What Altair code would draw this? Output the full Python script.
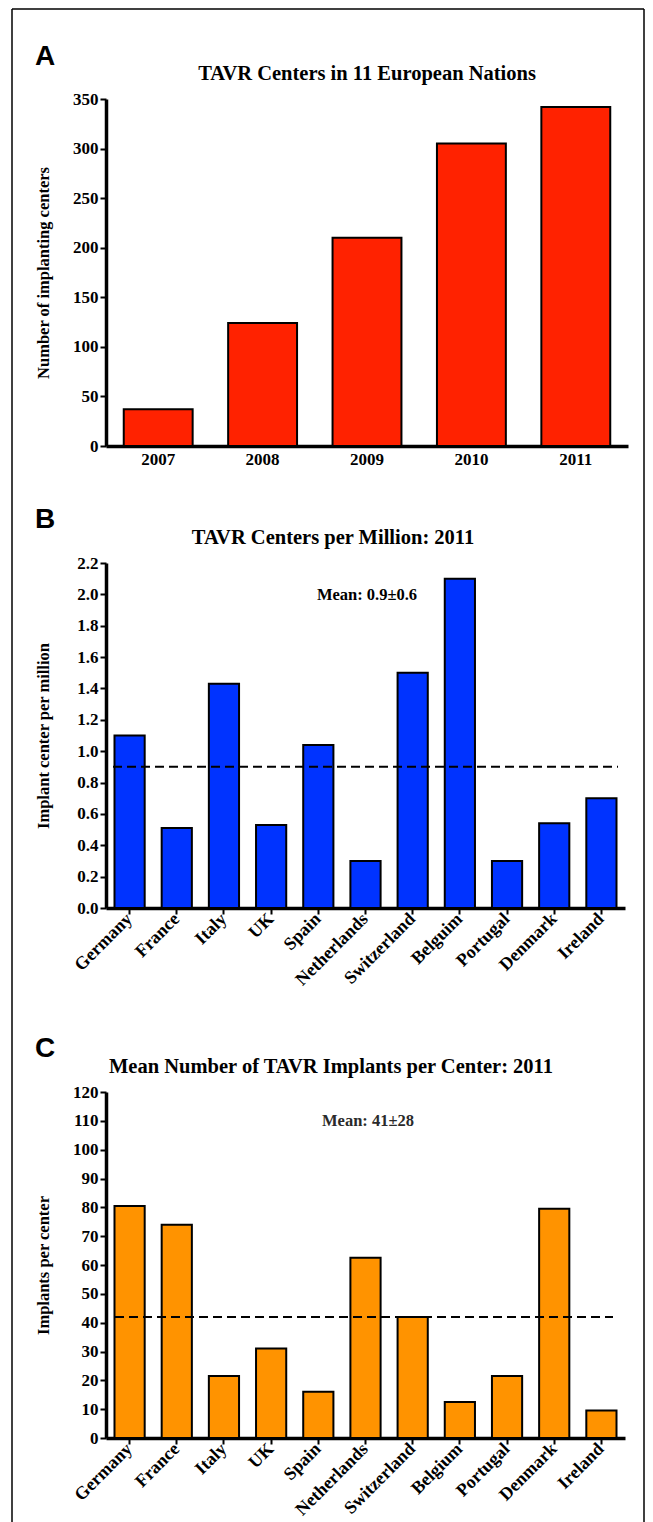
import altair as alt
import pandas as pd

# ---------------- data ----------------
years = ["2007", "2008", "2009", "2010", "2011"]
centers = [37, 124, 210, 305, 342]

countries_b = ["Germany", "France", "Italy", "UK", "Spain", "Netherlands",
               "Switzerland", "Belguim", "Portugal", "Denmark", "Ireland"]
per_million = [1.10, 0.51, 1.43, 0.53, 1.04, 0.30, 1.50, 2.10, 0.30, 0.54, 0.70]

countries_c = ["Germany", "France", "Italy", "UK", "Spain", "Netherlands",
               "Switzerland", "Belgium", "Portugal", "Denmark", "Ireland"]
implants = [80.5, 74.0, 21.5, 31.0, 16.0, 62.5, 42.0, 12.5, 21.5, 79.5, 9.5]

mean_b = [0.9]
mean_c = [42]
mean_b_text = "Mean: 0.9±0.6"
mean_c_text = "Mean: 41±28"

titles = ["TAVR Centers in 11 European Nations",
          "TAVR Centers per Million: 2011",
          "Mean Number of TAVR Implants per Center: 2011"]
y_titles = ["Number of implanting centers",
            "Implant center per million",
            "Implants per center"]
letters = ["A", "B", "C"]

yticks_a = [0, 50, 100, 150, 200, 250, 300, 350]
yticks_b = [0.0, 0.2, 0.4, 0.6, 0.8, 1.0, 1.2, 1.4, 1.6, 1.8, 2.0, 2.2]
yticks_c = [0, 10, 20, 30, 40, 50, 60, 70, 80, 90, 100, 110, 120]

# ---------------- style ----------------
SERIF = "Liberation Serif"
SANS = "Liberation Sans"
RED = "#FF2200"
BLUE = "#0033FF"
ORANGE = "#FF9300"

WA, HA = 522, 347
WB, HB = 519, 345
WC, HC = 519, 346


def y_axis(values, title, h, fmt=None):
    kw = dict(values=values, title=title, grid=False,
              domainColor="black", domainWidth=3.5,
              tickColor="black", tickWidth=2, tickSize=6,
              labelFont=SERIF, labelFontWeight="bold", labelFontSize=17,
              labelColor="black", labelPadding=2, labelOverlap=False,
              titleFont=SERIF, titleFontWeight="bold", titleFontSize=16.5,
              titleColor="black", titleAngle=270, titleBaseline="middle",
              titleAlign="center", titleX=-63, titleY=h / 2)
    if fmt:
        kw["format"] = fmt
    return alt.Axis(**kw)


def x_axis_rot():
    return alt.Axis(title=None, labelAngle=315, labelAlign="right",
                    labelBaseline="middle", labelPadding=2,
                    labelFont=SERIF, labelFontWeight="bold", labelFontSize=18,
                    labelColor="black", labelOverlap=False,
                    domainColor="black", domainWidth=3.5,
                    ticks=True, tickColor="black", tickWidth=2, tickSize=6)


def text_mark(text, x, y, size, font=SERIF, color="black"):
    return alt.Chart(pd.DataFrame({"t": [text]})).mark_text(
        font=font, fontSize=size, fontWeight="bold", color=color,
        align="center", baseline="middle"
    ).encode(text="t:N", x=alt.value(x), y=alt.value(y))


# ---------------- panel A ----------------
df_a = pd.DataFrame({"cat": years, "value": centers})
bars_a = alt.Chart(df_a).mark_bar(color=RED, stroke="black", strokeWidth=2).encode(
    x=alt.X("cat:N", sort=years,
            scale=alt.Scale(paddingInner=0.34, paddingOuter=0.17),
            axis=alt.Axis(title=None, labelAngle=0, ticks=False, tickSize=0,
                          labelPadding=5, labelFont=SERIF, labelFontWeight="bold",
                          labelFontSize=17, labelColor="black",
                          domainColor="black", domainWidth=3.5)),
    y=alt.Y("value:Q", scale=alt.Scale(domain=[0, 350], nice=False),
            axis=y_axis(yticks_a, y_titles[0], HA)),
)

# outer frame of the figure (kept within the 637px-wide page body)
border_df = pd.DataFrame({"k": [0]})
BL, BR, BT, BB = -94, 538, -90, 1440
border_left = alt.Chart(border_df).mark_rule(color="black", strokeWidth=1.5).encode(
    x=alt.value(BL), y=alt.value(BT), y2=alt.value(BB))
border_right = alt.Chart(border_df).mark_rule(color="black", strokeWidth=1.5).encode(
    x=alt.value(BR), y=alt.value(BT), y2=alt.value(BB))
border_top = alt.Chart(border_df).mark_rule(color="black", strokeWidth=1.5).encode(
    x=alt.value(BL), x2=alt.value(BR), y=alt.value(BT))

panel_a = alt.layer(
    bars_a,
    text_mark(titles[0], 261, -25, 20.5),
    text_mark(letters[0], -61, -42, 28, font=SANS),
    border_left, border_right, border_top,
).properties(width=WA, height=HA)

# ---------------- panel B ----------------
ax_b = y_axis(yticks_b, y_titles[1], HB, fmt=".1f")
sc_b = alt.Scale(domain=[0, 2.2], nice=False)
df_b = pd.DataFrame({"cat": countries_b, "value": per_million})
bars_b = alt.Chart(df_b).mark_bar(color=BLUE, stroke="black", strokeWidth=2).encode(
    x=alt.X("cat:N", sort=countries_b,
            scale=alt.Scale(paddingInner=0.36, paddingOuter=0.18),
            axis=x_axis_rot()),
    y=alt.Y("value:Q", scale=sc_b, axis=ax_b),
)
mean_line_b = alt.Chart(pd.DataFrame({"value": mean_b})).mark_rule(
    color="black", strokeWidth=2, strokeDash=[9, 5]
).encode(y=alt.Y("value:Q", scale=sc_b, axis=ax_b),
         x=alt.value(7), x2=alt.value(512))

panel_b = alt.layer(
    bars_b, mean_line_b,
    text_mark(mean_b_text, 261, 32, 16.5),
    text_mark(titles[1], 227, -25, 20.5),
    text_mark(letters[1], -61, -43, 28, font=SANS),
).properties(width=WB, height=HB)

# ---------------- panel C ----------------
ax_c = y_axis(yticks_c, y_titles[2], HC)
sc_c = alt.Scale(domain=[0, 120], nice=False)
df_c = pd.DataFrame({"cat": countries_c, "value": implants})
bars_c = alt.Chart(df_c).mark_bar(color=ORANGE, stroke="black", strokeWidth=2).encode(
    x=alt.X("cat:N", sort=countries_c,
            scale=alt.Scale(paddingInner=0.36, paddingOuter=0.18),
            axis=x_axis_rot()),
    y=alt.Y("value:Q", scale=sc_c, axis=ax_c),
)
mean_line_c = alt.Chart(pd.DataFrame({"value": mean_c})).mark_rule(
    color="black", strokeWidth=2, strokeDash=[9, 5]
).encode(y=alt.Y("value:Q", scale=sc_c, axis=ax_c),
         x=alt.value(9), x2=alt.value(507))

panel_c = alt.layer(
    bars_c, mean_line_c,
    text_mark(mean_c_text, 262, 29, 16.5, color="#2a2a2a"),
    text_mark(titles[2], 225, -25, 20.5),
    text_mark(letters[2], -61, -43, 28, font=SANS),
).properties(width=WC, height=HC)


def spacer(h):
    return alt.Chart(pd.DataFrame({"k": [0]})).mark_point(opacity=0).encode(
        x=alt.value(0), y=alt.value(0)).properties(width=10, height=h)


chart = alt.vconcat(
    panel_a, spacer(117), panel_b, spacer(184), panel_c,
    spacing=0, bounds="flush"
).properties(
    padding={"left": 3, "top": 0, "right": 0, "bottom": 0}
).configure(background="white").configure_view(stroke=None)

chart.save("out.html", embed_options={"renderer": "svg", "actions": False})
